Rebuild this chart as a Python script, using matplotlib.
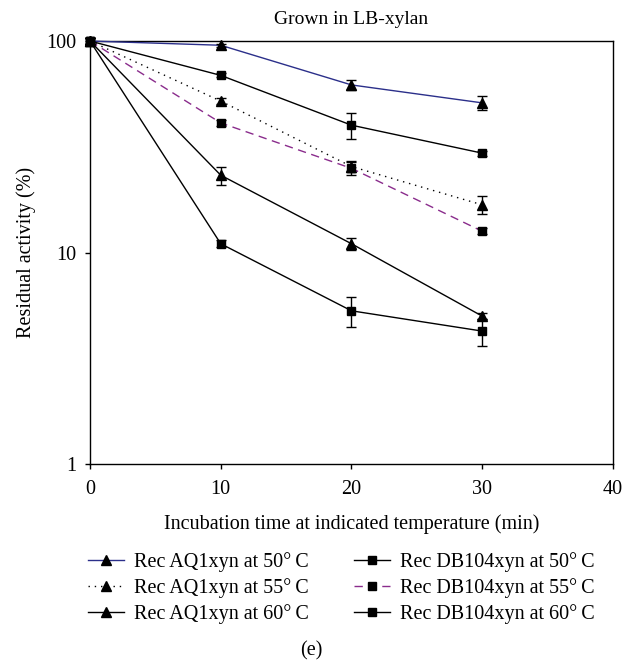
import matplotlib
matplotlib.use("Agg")
import matplotlib.pyplot as plt
from matplotlib.ticker import FixedLocator, NullLocator

plt.rcParams["font.family"] = ["Liberation Serif", "DejaVu Serif"]
plt.rcParams["font.size"] = 14.5

time_min = [0, 10, 20, 30]

aq1_50 = [100, 95.5, 62, 51]
aq1_50_err = [3, 1.5, 3.5, 4]
aq1_55 = [100, 52, 25.5, 16.8]
aq1_55_err = [3, 1.5, 1.5, 1.6]
aq1_60 = [100, 23.2, 11, 5.0]
aq1_60_err = [3, 2.3, 0.75, 0.15]

db104_50 = [100, 68.8, 40, 29.5]
db104_50_err = [3, 1.5, 5.5, 0.8]
db104_55 = [100, 41, 25, 12.6]
db104_55_err = [3, 1.2, 1.7, 0.4]
db104_60 = [100, 11, 5.3, 4.25]
db104_60_err = [3, 0.4, 0.85, 0.62]

x_ticks = [0, 10, 20, 30, 40]
y_ticks = [1, 10, 100]

deg = "\u00b0\u2009C"
series = [
    ("Rec AQ1xyn at 50" + deg, aq1_50, aq1_50_err, "^", "#2b2f8a", "-"),
    ("Rec AQ1xyn at 55" + deg, aq1_55, aq1_55_err, "^", "black", (0, (1, 3.5))),
    ("Rec AQ1xyn at 60" + deg, aq1_60, aq1_60_err, "^", "black", "-"),
    ("Rec DB104xyn at 50" + deg, db104_50, db104_50_err, "s", "black", "-"),
    ("Rec DB104xyn at 55" + deg, db104_55, db104_55_err, "s", "#8a2c8c", (0, (6, 4))),
    ("Rec DB104xyn at 60" + deg, db104_60, db104_60_err, "s", "black", "-"),
]

fig = plt.figure(figsize=(6.22, 6.65), dpi=100)
ax = fig.add_axes([0.1447, 0.3023, 0.8408, 0.636])

handles = []
for label, vals, errs, marker, color, ls in series:
    ms = 7.5 if marker == "^" else 6
    line, = ax.plot(time_min, vals, linestyle=ls, color=color, linewidth=1.0,
                    marker=marker, markersize=ms, markerfacecolor="black",
                    markeredgecolor="black", label=label, clip_on=False, zorder=3)
    ax.errorbar(time_min, vals, yerr=errs, fmt="none", ecolor="black",
                elinewidth=1.0, capsize=3.5, capthick=1.0, clip_on=False, zorder=4)
    handles.append(line)

ax.set_yscale("log")
ax.set_xlim(0, 40)
ax.set_ylim(1, 100)
ax.xaxis.set_major_locator(FixedLocator(x_ticks))
ax.yaxis.set_major_locator(FixedLocator(y_ticks))
ax.yaxis.set_minor_locator(NullLocator())
ax.set_yticklabels([str(v) for v in y_ticks])
ax.tick_params(direction="out", length=3.5, width=1.0, pad=6)
ax.tick_params(axis="x", pad=8)
for sp in ax.spines.values():
    sp.set_linewidth(1.0)

ax.set_title("Grown in LB-xylan", fontsize=14, pad=12)
ax.set_xlabel("Incubation time at indicated temperature (min)", labelpad=11)
ax.set_ylabel("Residual activity (%)", labelpad=8)

fig.legend(handles=handles, ncol=2, frameon=False, loc="upper left",
           bbox_to_anchor=(88 / 622, 1 - 552 / 665),
           borderpad=0, borderaxespad=0,
           handlelength=1.8, handletextpad=0.5, columnspacing=2.2,
           labelspacing=0.3)

fig.text(0.5, 1 - 651 / 665, "(e)", ha="center", va="center")

fig.savefig("out.png", dpi=100)
